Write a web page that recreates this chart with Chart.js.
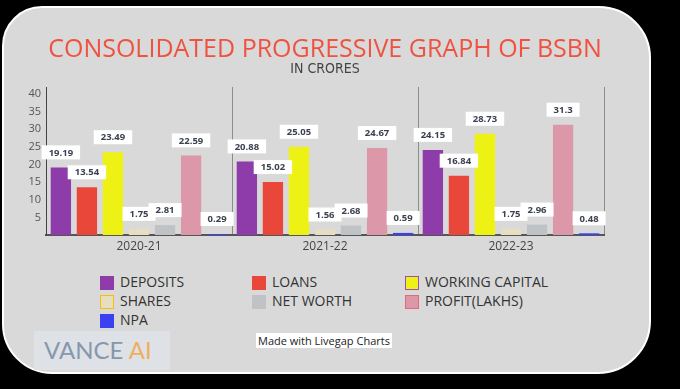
<!DOCTYPE html>
<html>
<head>
<meta charset="utf-8">
<script src="https://cdn.jsdelivr.net/npm/chart.js@4.4.0/dist/chart.umd.min.js"></script>
<style>
  html, body { margin: 0; padding: 0; background: #000; }
  body { width: 680px; height: 389px; position: relative; overflow: hidden; font-family: 'Open Sans', sans-serif; }
  #card {
    position: absolute; left: 2px; top: 6px; width: 645px; height: 364px;
    background: #d9d9d9; border: 2px solid #fff;
    border-radius: 40px 52px 53px 50px;
  }
  #chart { position: absolute; left: 0; top: 0; }
  .legend-item { position: absolute; height: 14px; font-size: 14px; color: #333; line-height: 14px; white-space: nowrap; }
  .legend-item span.box { position: absolute; left: 0; top: 0; width: 14px; height: 14px; box-sizing: border-box; }
  .legend-item span.txt { position: absolute; left: 20px; top: -1px; }
  #made { position: absolute; left: 256px; top: 333px; background: #fff; font-size: 11px; color: #222; padding: 0 2px; line-height: 15px; }
  #vance { position: absolute; left: 34px; top: 331px; width: 136px; height: 39px; background: #dee2e6; }
  #vance div { position: absolute; left: 10px; top: 5px; font-family: Lato, sans-serif; font-weight: 400; font-size: 24px; color: #8797ad; line-height: 28px; }
  #vance div b { font-weight: 400; color: #f0ae62; }
</style>
</head>
<body>
<div id="card"></div>
<canvas id="chart" width="650" height="255"></canvas>
<div id="legend"></div>
<div id="made">Made with Livegap Charts</div>
<div id="vance"><div>VANCE <b>AI</b></div></div>
<script>
var years = ['2020-21', '2021-22', '2022-23'];
var seriesNames = ['DEPOSITS', 'LOANS', 'WORKING CAPITAL', 'SHARES', 'NET WORTH', 'PROFIT(LAKHS)', 'NPA'];
var deposits = [19.19, 20.88, 24.15];
var loans = [13.54, 15.02, 16.84];
var workingCapital = [23.49, 25.05, 28.73];
var shares = [1.75, 1.56, 1.75];
var netWorth = [2.81, 2.68, 2.96];
var profit = [22.59, 24.67, 31.3];
var npa = [0.29, 0.59, 0.48];
var yTicks = [5, 10, 15, 20, 25, 30, 35, 40];

var fills = ['#8e3caa', '#e8473a', '#eef214', '#e7ddc0', '#bfc3c6', '#dc97a8', '#3b40f0'];
var borders = ['#8e3caa', '#e8473a', '#9b4fb5', '#f5c200', '#bfc3c6', '#e26a7c', '#3b40f0'];
var allValues = [deposits, loans, workingCapital, shares, netWorth, profit, npa];

function buildDatasets() {
  var sets = [];
  for (var i = 0; i < seriesNames.length; i++) {
    sets.push({
      label: seriesNames[i],
      data: allValues[i],
      backgroundColor: fills[i],
      borderColor: borders[i],
      borderWidth: 0,
      categoryPercentage: 0.98,
      barPercentage: 0.78
    });
  }
  return sets;
}

// white value boxes above each bar
var valueBoxes = {
  id: 'valueBoxes',
  afterDatasetsDraw: function (chart) {
    var ctx = chart.ctx;
    ctx.save();
    ctx.font = 'bold 9.5px "Open Sans", sans-serif';
    ctx.textAlign = 'center';
    ctx.textBaseline = 'middle';
    chart.data.datasets.forEach(function (ds, i) {
      var meta = chart.getDatasetMeta(i);
      meta.data.forEach(function (bar, j) {
        var txt = String(ds.data[j]);
        var w = ctx.measureText(txt).width + 14;
        var h = 14;
        var bottom = bar.y - 8;
        ctx.fillStyle = '#fff';
        ctx.fillRect(bar.x - w / 2, bottom - h, w, h);
        ctx.fillStyle = '#3b4150';
        ctx.fillText(txt, bar.x, bottom - h / 2 + 0.5);
      });
    });
    ctx.restore();
  }
};

var ctx = document.getElementById('chart').getContext('2d');
var chart = new Chart(ctx, {
  type: 'bar',
  data: { labels: years, datasets: buildDatasets() },
  options: {
    responsive: false,
    animation: false,
    layout: { padding: { left: 0, right: 46, top: 0, bottom: 0 } },
    plugins: {
      legend: { display: false },
      tooltip: { enabled: false },
      title: {
        display: true,
        fullSize: false,
        text: 'CONSOLIDATED PROGRESSIVE GRAPH OF BSBN',
        color: '#ef5340',
        font: { family: 'Open Sans', size: 25, weight: 'normal', lineHeight: 1 },
        padding: { top: 37, bottom: 0 }
      },
      subtitle: {
        display: true,
        fullSize: false,
        text: 'IN CRORES',
        color: '#444',
        font: { family: '"Liberation Sans Narrow", "DejaVu Sans Condensed", sans-serif', size: 14, lineHeight: 1 },
        padding: { top: 0, bottom: 11 }
      }
    },
    scales: {
      x: {
        offset: true,
        grid: {
          offset: true,
          drawTicks: false,
          color: function (c) { return c.index === 3 ? 'rgba(0,0,0,0)' : '#8c8c8c'; },
          lineWidth: 1
        },
        border: { display: true, color: '#555', width: 2 },
        ticks: { color: '#444', font: { family: 'Open Sans', size: 12 }, padding: 4 },
        afterFit: function (axis) { axis.height = 20; }
      },
      y: {
        min: 0,
        max: 42,
        grid: { drawOnChartArea: false, drawTicks: false },
        border: { display: true, color: '#444', width: 1 },
        ticks: { color: '#555', font: { family: 'Open Sans', size: 11 }, padding: 5 },
        afterBuildTicks: function (axis) {
          axis.ticks = yTicks.map(function (v) { return { value: v }; });
        },
        afterFit: function (axis) { axis.width = 46; }
      }
    }
  },
  plugins: [valueBoxes]
});

// three-column legend built from the chart's datasets
var legendEl = document.getElementById('legend');
var colX = [100, 252, 405];
chart.data.datasets.forEach(function (ds, i) {
  var item = document.createElement('div');
  item.className = 'legend-item';
  item.style.left = colX[i % 3] + 'px';
  item.style.top = (276 + Math.floor(i / 3) * 19) + 'px';
  var box = document.createElement('span');
  box.className = 'box';
  box.style.background = ds.backgroundColor;
  box.style.border = '1.5px solid ' + ds.borderColor;
  var txt = document.createElement('span');
  txt.className = 'txt';
  txt.textContent = ds.label;
  item.appendChild(box);
  item.appendChild(txt);
  legendEl.appendChild(item);
});
</script>
</body>
</html>
